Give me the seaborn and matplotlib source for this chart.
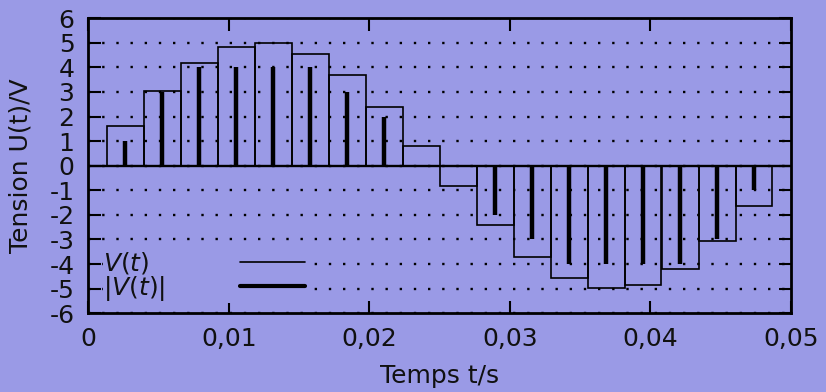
import numpy as np
import matplotlib
matplotlib.use('Agg')
import matplotlib.pyplot as plt
from matplotlib.lines import Line2D
import seaborn as sns

# sample times (s) and step values V(t)
t = [0.00263, 0.00526, 0.00789, 0.01053, 0.01316, 0.01579, 0.01842, 0.02105, 0.02368,
     0.02632, 0.02895, 0.03158, 0.03421, 0.03684, 0.03947, 0.04211, 0.04474, 0.04737]
v = [1.61, 3.05, 4.17, 4.83, 4.97, 4.56, 3.67, 2.37, 0.81,
     -0.82, -2.40, -3.70, -4.58, -4.98, -4.86, -4.19, -3.07, -1.63]
# quantized values drawn as impulses
q = [1, 3, 4, 4, 4, 4, 3, 2, 0,
     0, -2, -3, -4, -4, -4, -4, -3, -1]

xtick_vals = [0, 0.01, 0.02, 0.03, 0.04, 0.05]
xtick_labels = ['0', '0,01', '0,02', '0,03', '0,04', '0,05']
ytick_vals = list(range(-6, 7))
legend_labels = [r'$V(t)$', r'$|V(t)|$']

sns.set_theme(style='ticks')
plt.rcParams['font.family'] = ['DejaVu Sans']
plt.rcParams['axes.unicode_minus'] = False
plt.rcParams['mathtext.fontset'] = 'dejavusans'

bg = '#9a9ae6'
ink = '#111111'
fs = 18
fig = plt.figure(figsize=(8.26, 3.92), dpi=100, facecolor=bg)
ax = fig.add_axes([0.1069, 0.2008, 0.8507, 0.7530])
ax.set_facecolor(bg)

# dotted horizontal grid
ax.set_axisbelow(True)
ax.grid(axis='y', linestyle=(0, (1, 5)), linewidth=1.7, color='black')

# step bars of V(t)
dt = t[1] - t[0]
ax.bar(t, v, width=dt, fill=False, edgecolor='black', linewidth=1.2)

# impulses
ax.vlines(t, 0, q, colors='black', linewidth=3.2)
ax.axhline(0, color='black', linewidth=1.7)

ax.set_xlim(0, 0.05)
ax.set_ylim(-6, 6)
ax.set_xticks(xtick_vals)
ax.set_xticklabels(xtick_labels)
ax.set_yticks(ytick_vals)
ax.tick_params(direction='in', top=True, right=True, length=9, width=1.5,
               labelsize=fs, colors='black', labelcolor=ink)
ax.tick_params(axis='x', pad=10)
ax.tick_params(axis='y', pad=10)
for s in ax.spines.values():
    s.set_linewidth(2)
    s.set_color('black')

ax.set_xlabel('Temps t/s', fontsize=fs, color=ink, labelpad=9)
ax.set_ylabel('Tension U(t)/V', fontsize=fs, color=ink, labelpad=12)

handles = [Line2D([], [], color='black', lw=1.2),
           Line2D([], [], color='black', lw=3.0)]
leg = ax.legend(handles, legend_labels, loc='lower left',
                bbox_to_anchor=(0.021, 0.035), markerfirst=False, fontsize=fs,
                handlelength=2.6, handletextpad=3.0, labelspacing=-0.1,
                borderpad=0, borderaxespad=0, frameon=True, fancybox=False,
                facecolor=bg, edgecolor='none', framealpha=1)
for txt in leg.get_texts():
    txt.set_color(ink)

# left-align the legend texts (gnuplot style: text first, sample to the right)
fig.canvas.draw()
col = leg._legend_handle_box.get_children()[0]
col.align = 'left'
widths = [txt.get_window_extent().width for txt in leg.get_texts()]
for row, w in zip(col.get_children(), widths):
    row.sep = row.sep + (max(widths) - w) * 72 / fig.dpi

fig.savefig('out.png', dpi=100, facecolor=bg)
